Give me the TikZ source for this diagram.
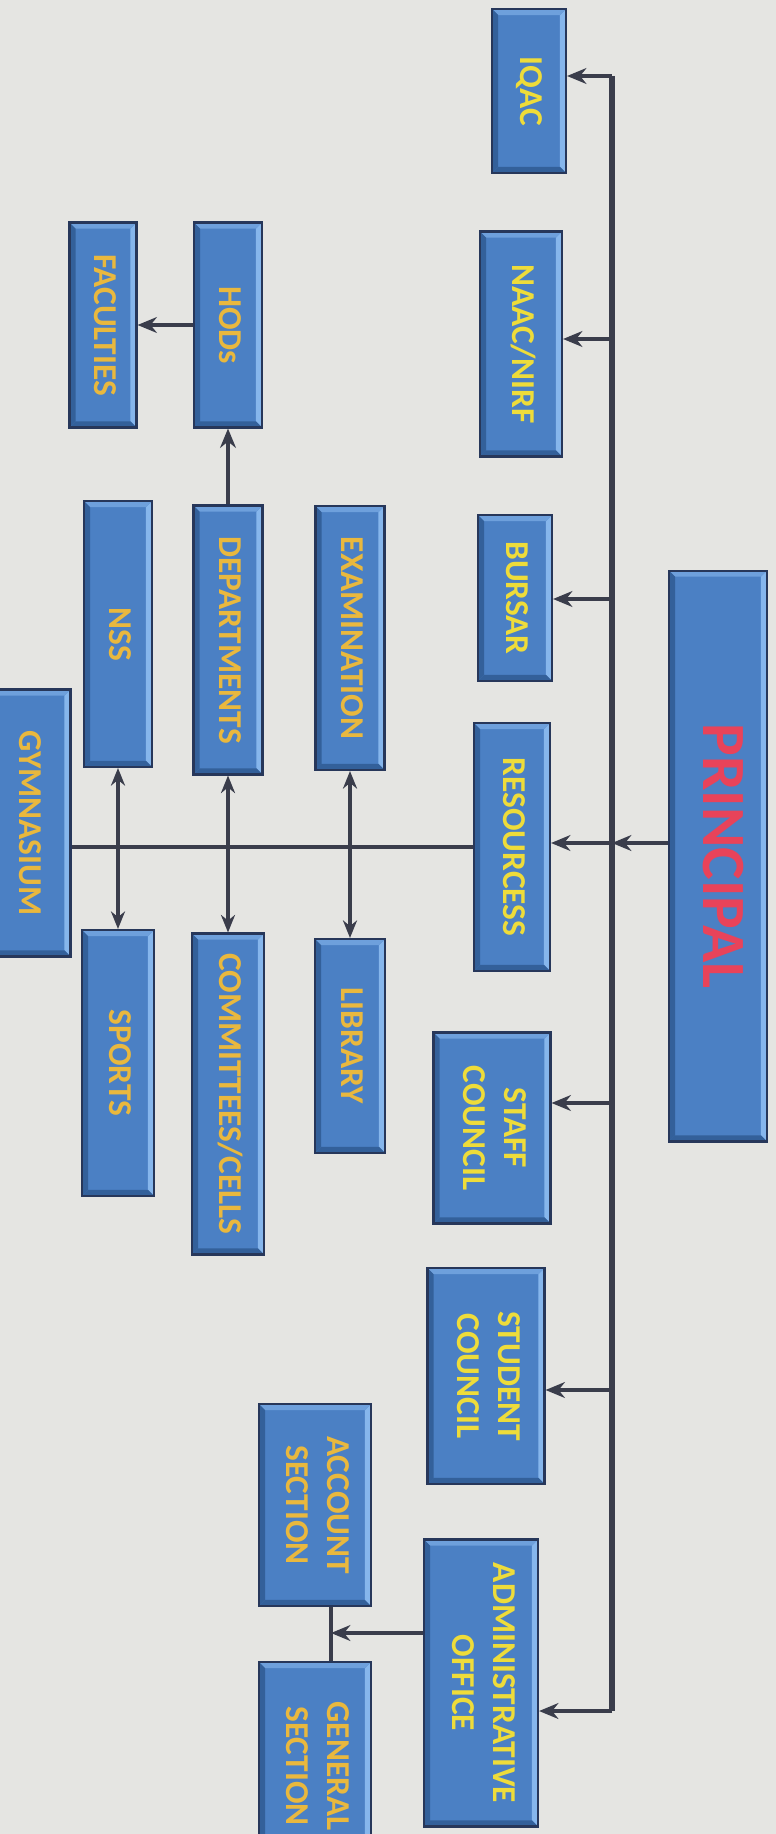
\documentclass[tikz,border=0pt]{standalone}
\usepackage{fontspec}
\setmainfont{Carlito}
\usepackage{graphicx}
\usetikzlibrary{arrows.meta}

\definecolor{paper}{HTML}{E5E5E2}
\definecolor{boxblue}{HTML}{4B80C4}
\definecolor{boxlight}{HTML}{86B6EC}
\definecolor{boxdark}{HTML}{33609A}
\definecolor{boxedge}{HTML}{27375A}
\definecolor{linegray}{HTML}{3A3D4B}
\definecolor{txtyellow}{HTML}{EEDC3A}
\definecolor{txtgold}{HTML}{E9B83E}
\definecolor{txtred}{HTML}{E8435A}

\newcommand{\vlabel}[1]{\rotatebox{-90}{\begin{tabular}{@{}c@{}}#1\end{tabular}}}

\tikzset{
  box/.style={draw=boxedge, line width=1.2pt, fill=boxblue, inner sep=0pt,
    font=\bfseries\fontsize{19}{23}\selectfont, text=txtyellow,
    path picture={
      \fill[boxlight] (path picture bounding box.north east) -- (path picture bounding box.south east)
        -- ([shift={(-3.5pt,3.5pt)}]path picture bounding box.south east) -- ([shift={(-3.5pt,-3.5pt)}]path picture bounding box.north east) -- cycle;
      \fill[boxlight!60!boxblue] (path picture bounding box.north west) -- (path picture bounding box.north east)
        -- ([shift={(-3.5pt,-3.5pt)}]path picture bounding box.north east) -- ([shift={(3.5pt,-3.5pt)}]path picture bounding box.north west) -- cycle;
      \fill[boxdark] (path picture bounding box.south west) -- (path picture bounding box.south east)
        -- ([shift={(-3.5pt,3.5pt)}]path picture bounding box.south east) -- ([shift={(3.5pt,3.5pt)}]path picture bounding box.south west) -- cycle;
      \fill[boxdark] (path picture bounding box.north west) -- (path picture bounding box.south west)
        -- ([shift={(3.5pt,3.5pt)}]path picture bounding box.south west) -- ([shift={(3.5pt,-3.5pt)}]path picture bounding box.north west) -- cycle;
    }},
  gold/.style={text=txtgold},
  sz/.style 2 args={minimum width=#1cm, minimum height=#2cm},
  wire/.style={draw=linegray, line width=2.3pt},
  link/.style={wire, -{Stealth[length=11pt,width=9pt]}},
  link2/.style={wire, {Stealth[length=10pt,width=8pt]}-{Stealth[length=10pt,width=8pt]}},
}

\begin{document}
\begin{tikzpicture}[x=0.02cm, y=-0.02cm]
\clip (0,0) rectangle (776,1834);
\fill[paper] (0,0) rectangle (776,1834);

\node[box, sz={1.96}{11.42}, text=txtred, font=\bfseries\fontsize{35}{40}\selectfont] (principal) at (718,856) {\vlabel{PRINCIPAL}};

\node[box, sz={1.48}{3.28}] (iqac) at (529,91) {\vlabel{IQAC}};
\node[box, sz={1.64}{4.50}] (naac) at (521,344) {\vlabel{NAAC/NIRF}};
\node[box, sz={1.48}{3.32}] (bursar) at (515,598) {\vlabel{BURSAR}};
\node[box, sz={1.52}{4.96}] (res) at (512,847) {\vlabel{RESOURCESS}};
\node[box, sz={2.34}{3.82}] (staff) at (492,1128) {\vlabel{STAFF\\COUNCIL}};
\node[box, sz={2.34}{4.32}] (student) at (486,1376) {\vlabel{STUDENT\\COUNCIL}};
\node[box, sz={2.28}{5.74}] (admin) at (481,1683) {\vlabel{ADMINISTRATIVE\\OFFICE}};

\node[box, gold, sz={2.24}{4.04}] (account) at (315,1505) {\vlabel{ACCOUNT\\SECTION}};
\node[box, gold, sz={2.24}{4.16}] (general) at (315,1766) {\vlabel{GENERAL\\SECTION}};

\node[box, gold, sz={1.38}{5.28}] (exam) at (350,638) {\vlabel{EXAMINATION}};
\node[box, gold, sz={1.40}{4.28}] (library) at (350,1046) {\vlabel{LIBRARY}};
\node[box, gold, sz={1.36}{4.10}] (hods) at (228,325) {\vlabel{HODs}};
\node[box, gold, sz={1.34}{4.10}] (faculties) at (103,325) {\vlabel{FACULTIES}};
\node[box, gold, sz={1.38}{5.38}] (dept) at (228,640) {\vlabel{DEPARTMENTS}};
\node[box, gold, sz={1.44}{6.42}] (comm) at (228,1094) {\vlabel{COMMITTEES/CELLS}};
\node[box, gold, sz={1.36}{5.32}] (nss) at (118,634) {\vlabel{NSS}};
\node[box, gold, sz={1.44}{5.32}] (sports) at (118,1063) {\vlabel{SPORTS}};
\node[box, gold, sz={1.70}{5.34}] (gym) at (28,823) {\vlabel{GYMNASIUM}};

\foreach \n/\y in {iqac/76,naac/339,bursar/599,res/843,staff/1103,student/1390,admin/1711}
  \coordinate (t\n) at (612,\y);
\draw[wire, line width=3.2pt] (tiqac) -- (tadmin);
\foreach \n in {iqac,naac,bursar,res,staff,student,admin}
  \draw[link] (t\n) -- (t\n -| \n.east);
\draw[link] (principal.west |- tres) -- (tres);

\draw[wire] (res.west) -- (res.west -| gym.east);
\draw[link2] (exam.south) -- (library.north);
\draw[link2] (dept.south) -- (comm.north);
\draw[link2] (nss.south) -- (sports.north);
\draw[link] (dept.north) -- (hods.south);
\draw[link] (hods.west) -- (faculties.east);

\coordinate (sj) at (331,1633);
\draw[wire] (account.south -| sj) -- (general.north -| sj);
\draw[link] (admin.west |- sj) -- (sj);
\end{tikzpicture}
\end{document}
